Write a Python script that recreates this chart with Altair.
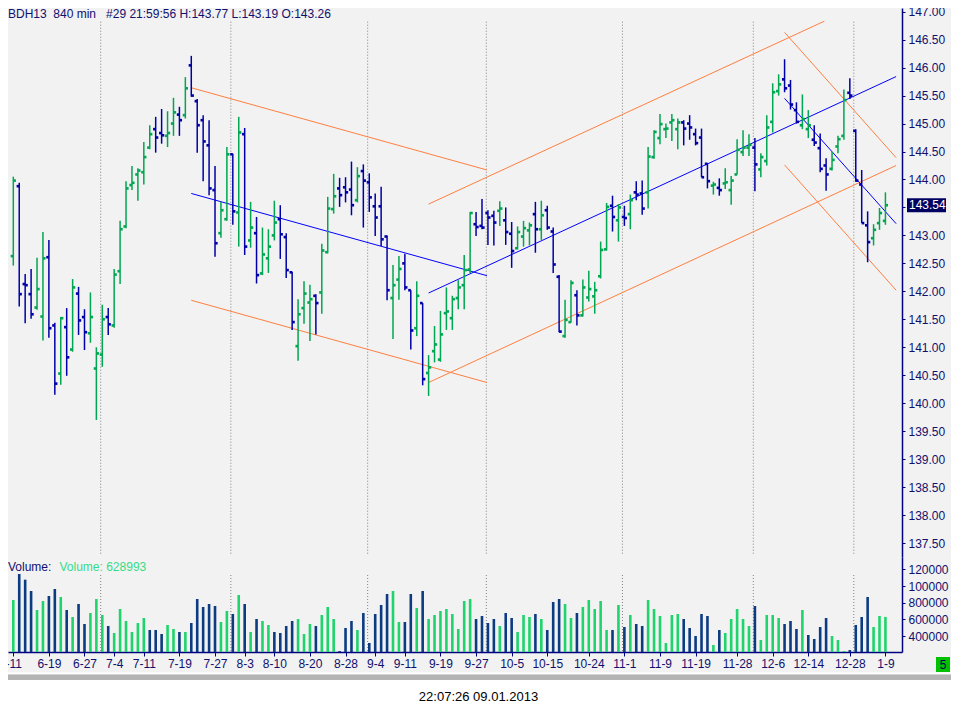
import altair as alt
import pandas as pd

# ---------------- data ----------------
opens = [142.63,143.88,142.13,141.95,141.71,141.55,142.61,141.39,140.53,141.36,
         140.96,141.96,141.54,141.25,140.62,140.87,141.54,141.39,142.36,143.16,
         143.90,144.09,144.13,144.57,144.90,144.83,144.78,145.00,145.16,145.15,
         146.04,145.40,145.06,144.61,143.81,143.04,143.29,144.45,143.41,144.81,
         142.91,143.04,142.32,142.59,143.00,143.29,142.97,142.34,141.02,141.70,
         141.80,141.92,141.98,142.70,143.47,143.84,143.86,143.82,143.63,144.15,
         143.95,143.52,143.52,142.98,141.88,142.21,142.50,142.02,141.34,141.79,
         140.54,140.93,140.78,141.61,141.52,141.88,142.11,142.39,143.20,143.17,
         143.40,143.35,143.44,143.27,143.03,142.77,142.98,143.09,143.38,143.11,
         143.45,143.07,142.26,141.20,141.45,141.93,141.57,141.89,141.91,142.27,
         142.75,143.53,143.27,143.33,143.38,143.77,143.75,143.77,144.40,144.74,
         144.90,145.02,144.90,145.02,145.00,144.81,144.75,144.28,143.89,143.85,
         143.93,143.81,144.09,144.49,144.57,144.57,144.18,144.33,145.03,145.58,
         145.79,145.68,145.24,144.97,144.90,144.71,144.56,144.25,144.19,144.59,
         144.78,145.55,144.87,143.91,143.18,142.95,143.22,143.26]
highs = [144.05,143.94,142.31,142.40,142.60,143.06,142.92,141.44,141.54,141.70,
         142.22,142.08,141.68,141.98,141.00,141.76,141.70,142.40,143.26,143.97,
         144.24,144.20,144.67,144.97,145.12,145.26,145.22,145.46,145.30,145.83,
         146.21,145.44,145.15,145.06,144.24,143.60,144.58,144.46,145.12,144.92,
         143.60,143.33,143.14,143.11,143.62,143.54,143.04,142.35,141.86,142.18,
         142.12,141.95,142.85,143.69,144.10,144.03,144.04,144.32,144.22,144.27,
         144.11,143.75,143.87,143.00,142.47,142.63,142.67,142.02,142.18,141.79,
         140.86,141.38,141.65,142.07,141.92,142.20,142.65,143.42,143.42,143.65,
         143.45,143.44,143.61,143.50,143.24,143.16,143.26,143.23,143.60,143.62,
         143.53,143.14,142.29,141.85,142.20,142.02,142.21,142.37,142.17,142.89,
         143.58,143.71,143.56,143.53,143.73,143.97,143.98,144.58,144.88,145.17,
         145.00,145.17,145.09,145.06,145.15,144.91,144.91,144.29,143.96,144.02,
         144.20,144.06,144.72,144.88,144.81,144.74,144.47,145.15,145.72,145.88,
         146.15,145.78,145.38,145.52,145.24,144.97,144.82,144.38,144.49,144.78,
         145.61,145.81,144.90,144.17,143.43,143.20,143.49,143.77]
lows = [142.46,141.73,141.43,141.51,141.67,141.12,141.17,140.15,140.33,140.49,
        140.92,141.22,140.95,141.08,139.70,140.65,141.22,141.35,142.13,143.13,
        143.81,143.62,143.91,144.54,144.48,144.64,144.58,144.78,144.78,145.09,
        145.48,144.48,143.97,143.72,142.62,142.96,143.26,143.19,142.80,142.65,
        142.78,142.14,142.29,142.33,142.91,142.58,142.24,141.31,140.76,141.42,
        141.11,141.23,141.60,142.68,143.39,143.51,143.59,143.36,143.59,143.14,
        143.42,142.99,142.81,141.84,141.15,141.85,142.02,140.96,141.20,140.32,
        140.13,140.73,140.74,141.31,141.31,141.68,141.68,142.33,142.99,143.11,
        142.83,142.82,143.17,142.83,142.42,142.75,142.80,142.82,142.69,142.92,
        143.10,142.33,141.27,141.17,141.44,141.39,141.55,141.82,141.60,142.23,
        142.73,143.07,142.89,143.17,143.11,143.63,143.37,143.48,144.37,144.63,
        144.74,144.69,144.54,144.61,144.71,144.61,144.04,143.84,143.73,143.71,
        143.83,143.55,144.09,144.42,144.42,143.79,144.04,144.25,144.84,145.50,
        145.56,145.25,145.00,144.90,144.74,144.60,144.13,143.80,144.16,144.47,
        144.71,145.44,143.96,143.22,142.52,142.82,143.10,143.19]
closes = [143.98,141.95,142.11,141.59,142.04,142.59,141.34,140.35,141.52,140.82,
          142.07,141.48,141.27,141.54,140.89,141.50,141.41,142.30,143.11,143.84,
          143.94,144.16,144.40,144.81,144.75,144.79,144.83,145.20,145.06,145.63,
          145.50,144.97,144.68,143.84,142.86,143.45,144.45,143.43,144.84,142.80,
          143.14,142.29,142.66,142.80,143.23,143.02,142.38,141.45,141.59,141.96,
          141.86,141.79,142.73,143.48,143.70,143.72,143.77,143.54,144.06,143.98,
          143.68,143.32,142.93,142.02,142.11,142.40,142.07,141.30,141.92,140.43,
          140.64,141.05,141.23,141.64,141.86,142.07,142.38,143.40,143.15,143.14,
          143.32,143.23,143.48,143.06,142.72,143.06,143.13,143.18,143.11,143.36,
          143.14,142.48,141.28,141.49,142.15,141.57,142.07,142.04,142.02,142.74,
          143.51,143.33,143.50,143.31,143.63,143.73,143.48,144.41,144.85,144.99,
          144.91,145.06,145.02,144.91,144.93,144.65,144.04,143.97,143.91,143.81,
          143.95,143.98,144.53,144.57,144.62,144.27,144.40,144.93,145.56,145.70,
          145.63,145.34,145.03,145.08,144.97,144.66,144.19,144.09,144.35,144.72,
          145.42,145.50,143.98,143.22,142.88,143.10,143.40,143.54]
volumes = [832000,1144000,1076000,940000,712000,820000,880000,964000,868000,712000,
           628000,784000,544000,676000,844000,652000,520000,436000,724000,580000,
           448000,556000,616000,472000,472000,424000,532000,484000,448000,448000,
           556000,844000,748000,784000,760000,568000,700000,664000,892000,784000,
           448000,604000,580000,532000,448000,436000,520000,580000,604000,424000,
           544000,520000,652000,748000,604000,220000,496000,580000,472000,676000,
           316000,664000,772000,904000,940000,568000,568000,904000,736000,940000,
           604000,652000,700000,724000,664000,484000,820000,844000,604000,640000,
           556000,604000,520000,676000,616000,448000,652000,628000,664000,604000,
           472000,808000,844000,784000,616000,676000,748000,832000,724000,820000,
           472000,472000,772000,508000,652000,544000,520000,832000,724000,640000,
           316000,652000,664000,604000,496000,400000,664000,640000,292000,472000,
           436000,604000,724000,604000,520000,760000,352000,652000,652000,616000,
           544000,580000,484000,712000,412000,364000,508000,616000,400000,352000,
           220000,232000,532000,628000,868000,508000,640000,628993]
vol_up = [1,0,0,0,1,1,0,0,1,0, 1,0,0,1,1,1,0,1,1,1, 1,1,1,0,0,0,1,1,0,1,
          0,0,0,0,0,1,1,0,1,0, 1,0,1,1,0,0,0,0,1,1, 1,0,1,1,1,0,0,0,1,0,
          0,0,0,0,1,1,0,0,1,0, 1,1,1,1,1,1,1,1,0,0, 0,0,1,0,0,1,1,1,0,1,
          0,0,0,1,1,0,1,1,1,1, 1,0,1,0,1,0,0,1,1,1, 1,1,1,0,0,0,0,0,1,0,
          1,1,1,1,1,0,1,1,1,1, 0,0,0,1,0,0,0,0,1,1, 1,0,0,0,0,1,1,1]

tick_bars = [0,6,12,17,22,28,34,39,44,50,56,61,66,72,78,84,90,97,103,109,115,122,128,134,141,147]
tick_labels = ["-11","6-19","6-27","7-4","7-11","7-19","7-27","8-3","8-10","8-20","8-28",
               "9-4","9-11","9-19","9-27","10-5","10-15","10-24","11-1","11-9","11-19",
               "11-28","12-6","12-14","12-28","1-9"]
month_breaks = [14.73, 36.67, 59.73, 79.73, 102.67, 124.73, 141.67]
price_ticks = [137.5,138.0,138.5,139.0,139.5,140.0,140.5,141.0,141.5,142.0,
               142.5,143.0,143.5,144.0,144.5,145.0,145.5,146.0,146.5,147.0]
vol_ticks = [400000, 600000, 800000, 1000000, 1200000]

trend_x1 = [30, 30, 30, 70, 70, 70, 130, 130, 130]
trend_p1 = [145.64, 143.75, 141.84, 143.56, 141.97, 140.37, 146.63, 145.45, 144.26]
trend_x2 = [79.83, 79.83, 79.83, 136.7, 148.8, 148.8, 148.8, 148.8, 148.8]
trend_p2 = [144.17, 142.28, 140.37, 146.83, 145.84, 144.25, 144.39, 143.21, 142.02]
trend_kind = ["channel", "center", "channel", "channel", "center", "channel",
              "channel", "center", "channel"]

header_text = "BDH13\u00a0\u00a0840 min\u00a0\u00a0\u00a0#29 21:59:56 H:143.77 L:143.19 O:143.26"
timestamp_text = "22:07:26 09.01.2013"
page_text = "5"

# ---------------- styling ----------------
NAVY = "#000080"
TXT = "#10106e"
GREEN = "#00a651"
BLUE = "#0000a8"
VGREEN = "#1fd46c"
VBLUE = "#0b3b80"
ORANGE = "#ff7f40"
LBLUE = "#0000ff"
FONT = "Liberation Sans"

bars = pd.DataFrame({"i": list(range(len(opens))), "o": opens, "h": highs,
                     "l": lows, "c": closes, "v": volumes, "vu": vol_up})
trend = pd.DataFrame({"x1": trend_x1, "p1": trend_p1, "x2": trend_x2,
                      "p2": trend_p2, "kind": trend_kind})
seps = pd.DataFrame({"m": month_breaks})
one = pd.DataFrame({"k": [0]})

XS = alt.Scale(domain=[-0.05, 148.95], nice=False, zero=False)
PS = alt.Scale(domain=[137.25, 147.066], range=[549, 0], nice=False, zero=False)
VS = alt.Scale(domain=[208000, 1348000], range=[644, 549], nice=False, zero=False)

label_expr = ("[" + ",".join("'%s'" % s for s in tick_labels) + "][indexof(["
              + ",".join(str(b) for b in tick_bars) + "], datum.value)]")
x_axis = alt.Axis(orient="bottom", values=tick_bars, labelExpr=label_expr, grid=False,
                  title=None, tickSize=4, labelPadding=2, labelFlush=2,
                  labelOverlap=False, domainColor=NAVY, domainWidth=1.5,
                  tickColor=NAVY, labelColor=TXT)


def X(field):
    return alt.X(field, type="quantitative", scale=XS, axis=x_axis)


price_axis = alt.Axis(orient="right", values=price_ticks, format=".2f", grid=False,
                      title=None, tickSize=3, labelPadding=3, labelOverlap=False,
                      domainColor=NAVY, domainWidth=1.5, tickColor=NAVY,
                      labelColor=TXT)
vol_axis = alt.Axis(orient="right", values=vol_ticks,
                    labelExpr="slice(format(datum.value, 'd'), 0, 6)", grid=False,
                    title=None, tickSize=3, labelPadding=3, labelOverlap=False,
                    domainColor=NAVY, domainWidth=1.5, tickColor=NAVY,
                    labelColor=TXT)

bar_col = "datum.c >= datum.o ? '%s' : '%s'" % (GREEN, BLUE)

# month separators
sep_price = alt.Chart(seps).mark_rule(color="#808080", strokeDash=[1, 2], strokeWidth=1).encode(
    x=X("m"), y=alt.value(13.7), y2=alt.value(547))
sep_vol = alt.Chart(seps).mark_rule(color="#808080", strokeDash=[1, 2], strokeWidth=1).encode(
    x=X("m"), y=alt.value(567), y2=alt.value(644))

# trend channels
trend_layer = alt.Chart(trend).transform_calculate(
    tc="datum.kind == 'center' ? '%s' : '%s'" % (LBLUE, ORANGE)
).mark_rule(strokeWidth=1).encode(
    x=X("x1"), x2="x2:Q",
    y=alt.Y("p1:Q", scale=PS, axis=None), y2="p2:Q",
    color=alt.Color("tc:N", scale=None))

# OHLC bars
hl = alt.Chart(bars).transform_calculate(col=bar_col).mark_rule(strokeWidth=1.5).encode(
    x=X("i"), y=alt.Y("l:Q", scale=PS, axis=price_axis), y2="h:Q",
    color=alt.Color("col:N", scale=None))
op = alt.Chart(bars).transform_calculate(col=bar_col).mark_square(
    size=7, opacity=1, xOffset=-1.3).encode(
    x=X("i"), y=alt.Y("o:Q", scale=PS, axis=None), color=alt.Color("col:N", scale=None))
cl = alt.Chart(bars).transform_calculate(col=bar_col).mark_square(
    size=7, opacity=1, xOffset=1.3).encode(
    x=X("i"), y=alt.Y("c:Q", scale=PS, axis=None), color=alt.Color("col:N", scale=None))

# volume
vol = alt.Chart(bars).transform_calculate(
    vcol="datum.vu == 1 ? '%s' : '%s'" % (VGREEN, VBLUE), vb="208000"
).mark_bar(size=2.6).encode(
    x=X("i"), y=alt.Y("v:Q", scale=VS, axis=vol_axis), y2="vb:Q",
    color=alt.Color("vcol:N", scale=None))

# last price tag
last = pd.DataFrame({"c": [closes[-1]]})
tag_box = alt.Chart(last).transform_calculate(
    t="datum.c + 0.125", b="datum.c - 0.125"
).mark_rect(color="#000060").encode(
    x=alt.value(899), x2=alt.value(938),
    y=alt.Y("t:Q", scale=PS, axis=None), y2="b:Q")
tag_txt = alt.Chart(last).mark_text(align="left", baseline="middle", color="white",
                                    fontSize=12, font=FONT).encode(
    x=alt.value(901), y=alt.Y("c:Q", scale=PS, axis=None),
    text=alt.Text("c:Q", format=".2f"))

# texts
header = alt.Chart(pd.DataFrame({"t": [header_text]})).mark_text(
    align="left", baseline="middle", fontSize=12, font=FONT, color=TXT).encode(
    x=alt.value(0), y=alt.value(5.5), text="t:N")
vlab = alt.Chart(pd.DataFrame({"t": ["Volume:"]})).mark_text(
    align="left", baseline="middle", fontSize=12, font=FONT, color=TXT).encode(
    x=alt.value(0), y=alt.value(559), text="t:N")
vval = alt.Chart(pd.DataFrame({"t": ["Volume: %d" % volumes[-1]]})).mark_text(
    align="left", baseline="middle", fontSize=12, font=FONT, color="#35dc88").encode(
    x=alt.value(51.5), y=alt.value(559), text="t:N")

# footer
line_w = alt.Chart(one).mark_rect(color="#ffffff").encode(
    x=alt.value(0), x2=alt.value(943), y=alt.value(664.5), y2=alt.value(666))
band = alt.Chart(one).mark_rect(color="#b4b4b4").encode(
    x=alt.value(0), x2=alt.value(943), y=alt.value(666.5), y2=alt.value(672))
white = alt.Chart(one).mark_rect(color="#ffffff").encode(
    x=alt.value(0), x2=alt.value(943), y=alt.value(672), y2=alt.value(698))
stamp = alt.Chart(pd.DataFrame({"t": [timestamp_text]})).mark_text(
    align="center", baseline="middle", fontSize=13, font=FONT, color="#000000").encode(
    x=alt.value(470.5), y=alt.value(689), text="t:N")
pbox = alt.Chart(one).mark_rect(color="#00c000").encode(
    x=alt.value(928), x2=alt.value(942), y=alt.value(649), y2=alt.value(664))
ptxt = alt.Chart(pd.DataFrame({"t": [page_text]})).mark_text(
    align="center", baseline="middle", fontSize=12, font=FONT, color="#000050").encode(
    x=alt.value(935), y=alt.value(657), text="t:N")

chart = alt.layer(
    sep_price, sep_vol, trend_layer, hl, op, cl, vol, tag_box, tag_txt,
    header, vlab, vval, line_w, band, white, stamp, pbox, ptxt
).resolve_scale(y="independent").properties(
    width=894, height=644,
    autosize=alt.AutoSizeParams(type="none"),
    padding={"left": 0, "top": 0, "right": 49, "bottom": 54},
).configure(background="#f2f2f2", font=FONT).configure_view(
    stroke="transparent", strokeWidth=0
).configure_axis(labelFont=FONT, labelFontSize=12)

chart.save("out.html", embed_options={"renderer": "svg", "actions": False})
